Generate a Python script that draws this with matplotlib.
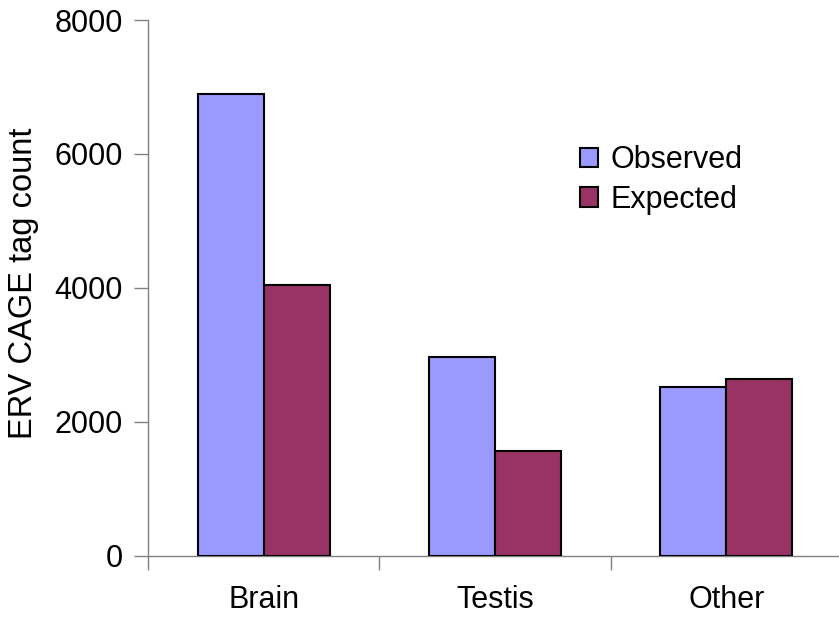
import numpy as np
import matplotlib
matplotlib.use("Agg")
import matplotlib.pyplot as plt

# ERV CAGE tag counts per tissue
tissues = ["Brain", "Testis", "Other"]
observed = [6900, 2970, 2520]
expected = [4050, 1560, 2640]

plt.rcParams['font.family'] = ['Liberation Sans', 'DejaVu Sans']

fig = plt.figure(figsize=(8.39, 6.19), dpi=100)
ax = fig.add_axes([148 / 839, 63.3 / 619, 694 / 839, 535.7 / 619])

x = np.arange(len(tissues))
w = 2 / 7
ax.bar(x - w / 2, observed, w, color="#9999FF", edgecolor="black", linewidth=1.5,
       label="Observed", zorder=3)
ax.bar(x + w / 2, expected, w, color="#993366", edgecolor="black", linewidth=1.5,
       label="Expected", zorder=3)

ax.set_xlim(-0.5, 2.5)
ax.set_ylim(0, 8000)
ax.set_yticks([0, 2000, 4000, 6000, 8000])

# category labels centred, tick marks between categories
ax.set_xticks(x)
ax.set_xticklabels(tissues)
ax.set_xticks([-0.5, 0.5, 1.5, 2.5], minor=True)
ax.tick_params(axis="x", which="major", length=0, pad=21, labelsize=22)
ax.tick_params(axis="x", which="minor", length=10, width=1, color="#808080", direction="out")
ax.tick_params(axis="y", length=10, width=1, color="#808080", pad=8, labelsize=22)

for side in ["top", "right"]:
    ax.spines[side].set_visible(False)
for side in ["left", "bottom"]:
    ax.spines[side].set_color("#808080")
    ax.spines[side].set_linewidth(1)

fig.text(24 / 839, 1 - 283 / 619, "ERV CAGE tag count", rotation=90,
         ha="center", va="center", fontsize=23.5)

ax.legend(loc="upper left", bbox_to_anchor=(580 / 839, 1 - 145 / 619),
          bbox_transform=fig.transFigure, frameon=False, fontsize=22,
          handlelength=0.6, handleheight=0.6, handletextpad=0.4,
          labelspacing=0.32, borderpad=0, borderaxespad=0)

fig.savefig("out.png", dpi=100)
